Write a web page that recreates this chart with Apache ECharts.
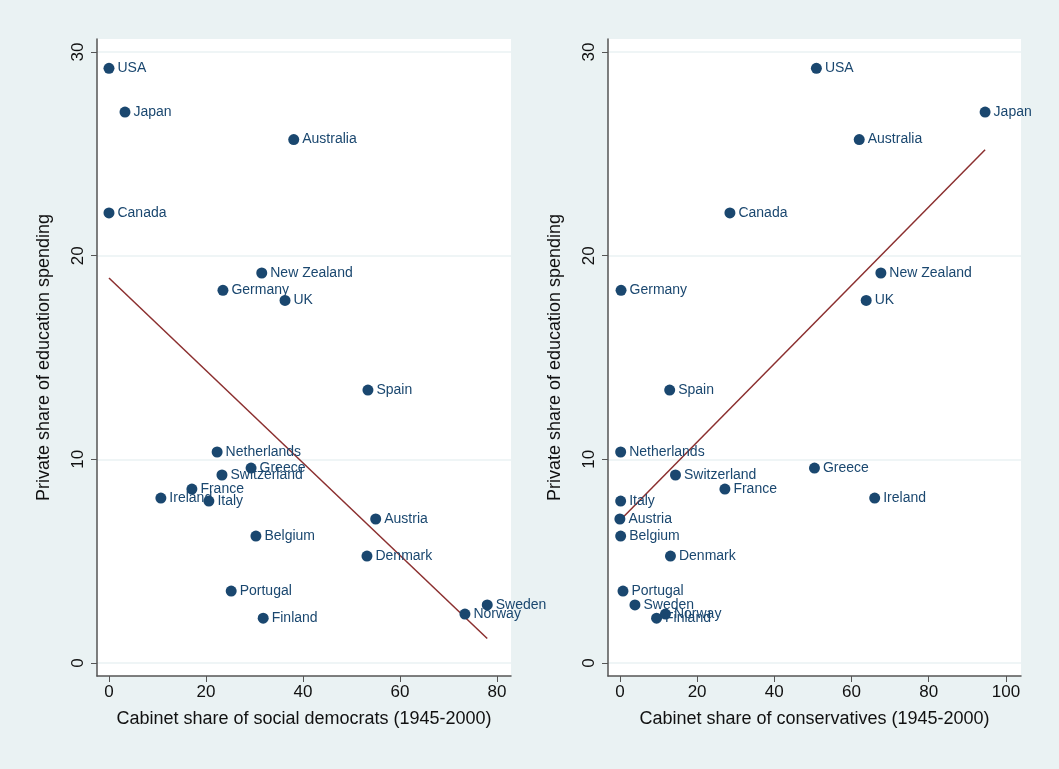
<!DOCTYPE html>
<html><head><meta charset="utf-8">
<script src="https://cdn.jsdelivr.net/npm/echarts@6/dist/echarts.min.js"></script>
<style>html,body{margin:0;background:#eaf2f3}#c{width:1059px;height:769px}</style>
</head><body><div id="c"></div>
<script>
const countries = ['USA','Japan','Australia','Canada','New Zealand','Germany','UK','Spain','Netherlands','Greece','Switzerland','France','Ireland','Italy','Austria','Belgium','Denmark','Portugal','Finland','Sweden','Norway'];
const privShare = [29.2,27.05,25.7,22.1,19.15,18.3,17.8,13.4,10.36,9.57,9.23,8.54,8.1,7.95,7.07,6.23,5.25,3.53,2.2,2.85,2.4];
const socDem = [0,3.3,38.1,0,31.5,23.5,36.3,53.4,22.3,29.3,23.3,17.1,10.7,20.6,55,30.3,53.2,25.2,31.8,78,73.4];
const conserv = [50.9,94.6,62,28.5,67.6,0.3,63.8,12.9,0.2,50.4,14.4,27.2,66,0.2,0,0.2,13.1,0.8,9.5,3.9,11.8];
const fitLeft = [[0,18.9],[78,1.2]];
const fitRight = [[0,7.0],[94.6,25.2]];
const ticksLeft = [0,20,40,60,80];
const ticksRight = [0,20,40,60,80,100];
const ticksY = [0,10,20,30];

const FONT = '"Liberation Sans Narrow","Liberation Sans",Arial,sans-serif';
const NAVY = '#1a476f';
const AXIS = '#555';

const chart = echarts.init(document.getElementById('c'));

function xAx(i, min, max, name, ticks) {
  return {
    gridIndex: i, type: 'value', min, max,
    name, nameLocation: 'middle', nameGap: 34,
    nameTextStyle: { fontFamily: FONT, fontSize: 18, color: '#111' },
    axisLine: { show: true, onZero: false, lineStyle: { color: AXIS, width: 1.5 } },
    axisTick: { show: true, length: 6, lineStyle: { color: AXIS }, customValues: ticks },
    axisLabel: { fontFamily: FONT, fontSize: 17, color: '#111', customValues: ticks },
    splitLine: { show: false },
  };
}
function yAx(i) {
  return {
    gridIndex: i, type: 'value', min: -0.64, max: 30.64,
    name: 'Private share of education spending', nameLocation: 'middle', nameGap: 44,
    nameTextStyle: { fontFamily: FONT, fontSize: 18, color: '#111' },
    axisLine: { show: true, onZero: false, lineStyle: { color: AXIS, width: 1.5 } },
    axisTick: { show: true, length: 6, lineStyle: { color: AXIS }, customValues: ticksY },
    axisLabel: { fontFamily: FONT, fontSize: 17, color: '#111', rotate: 90, margin: 10, customValues: ticksY },
    splitLine: { show: true, lineStyle: { color: '#eaf2f3', width: 1.5 } },
  };
}
function pts(xs) {
  return xs.map((x, k) => ({ value: [x, privShare[k]], name: countries[k] }));
}
function scatter(i, xs) {
  return {
    type: 'scatter', xAxisIndex: i, yAxisIndex: i, data: pts(xs), symbolSize: 11,
    itemStyle: { color: NAVY, opacity: 1 },
    label: { show: true, position: 'right', distance: 3, formatter: '{b}',
      fontFamily: FONT, fontSize: 14, color: NAVY },
  };
}
function fit(i, d) {
  return { type: 'line', xAxisIndex: i, yAxisIndex: i, data: d, symbol: 'none',
    lineStyle: { color: '#8b2f2f', width: 1.5 }, z: 1 };
}

chart.setOption({
  backgroundColor: '#eaf2f3',
  animation: false,
  grid: [
    { left: 97, right: 548, top: 39, bottom: 93, show: true, backgroundColor: '#fff', borderWidth: 0 },
    { left: 608, right: 38, top: 39, bottom: 93, show: true, backgroundColor: '#fff', borderWidth: 0 },
  ],
  xAxis: [
    xAx(0, -2.47, 82.9, 'Cabinet share of social democrats (1945-2000)', ticksLeft),
    xAx(1, -3.08, 103.9, 'Cabinet share of conservatives (1945-2000)', ticksRight),
  ],
  yAxis: [yAx(0), yAx(1)],
  series: [fit(0, fitLeft), fit(1, fitRight), scatter(0, socDem), scatter(1, conserv)],
});
</script></body></html>
